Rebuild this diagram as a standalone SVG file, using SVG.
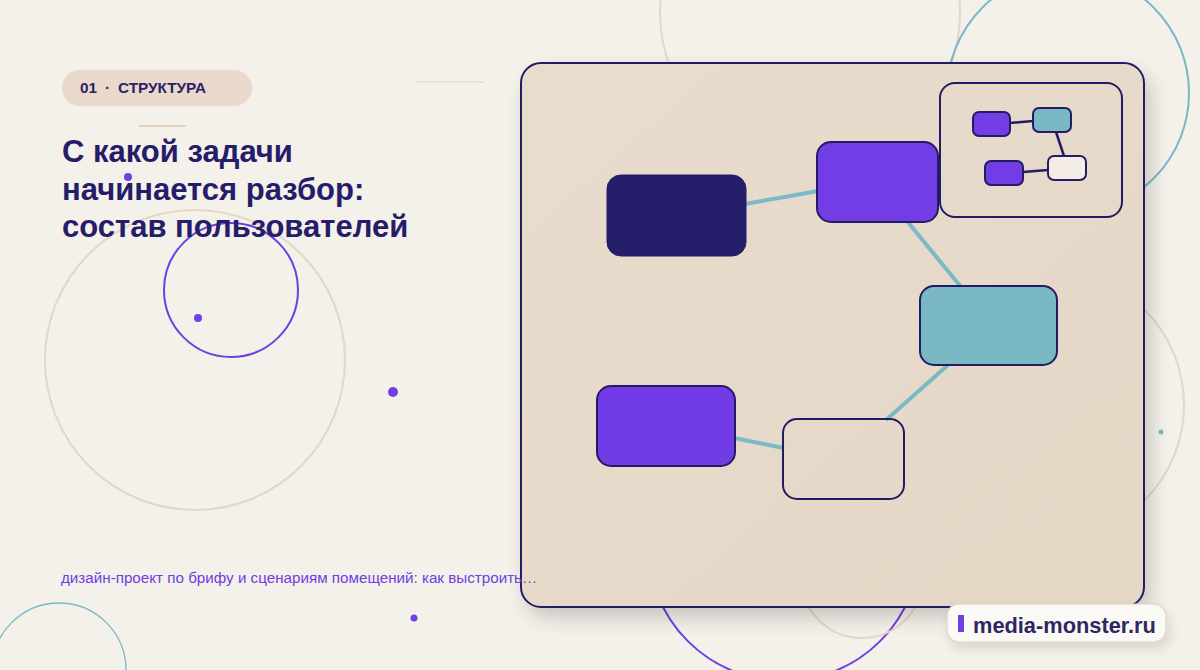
<svg xmlns="http://www.w3.org/2000/svg" width="1200" height="670" viewBox="0 0 1200 670">
<defs>
<style>
.deco{fill:none}
.beige{stroke:#e6d6c5;stroke-width:2}
.teal{stroke:#7ab8c4;stroke-width:2}
.purp{stroke:#6e3fe3;stroke-width:2}
.node{stroke:#231c64;stroke-width:2}
.edge{stroke:#7abac6;stroke-width:4;stroke-linecap:butt;fill:none}
.mini{stroke:#231c64;stroke-width:2}
.medge{stroke:#231c64;stroke-width:2.5;fill:none}
.title{font-family:"Liberation Sans",Arial,sans-serif;font-weight:700;font-size:31px;fill:#251d69}
.tag{font-family:"Liberation Sans",Arial,sans-serif;font-weight:700;font-size:15.3px;fill:#2a2168}
</style>
<linearGradient id="pg" x1="0" y1="0" x2="1" y2="1">
<stop offset="0" stop-color="#e8dccd"/>
<stop offset="1" stop-color="#e5d7c6"/>
</linearGradient>
<filter id="sh" x="-10%" y="-10%" width="125%" height="130%">
<feGaussianBlur in="SourceAlpha" stdDeviation="10"/>
<feOffset dx="6" dy="10" result="b"/>
<feComponentTransfer><feFuncA type="linear" slope="0.18"/></feComponentTransfer>
<feMerge><feMergeNode/><feMergeNode in="SourceGraphic"/></feMerge>
</filter>
<filter id="sh2" x="-20%" y="-40%" width="150%" height="200%">
<feGaussianBlur in="SourceAlpha" stdDeviation="6"/>
<feOffset dx="3" dy="6"/>
<feComponentTransfer><feFuncA type="linear" slope="0.12"/></feComponentTransfer>
<feMerge><feMergeNode/><feMergeNode in="SourceGraphic"/></feMerge>
</filter>
</defs>
<rect width="1200" height="670" fill="#f4f0ea"/>
<g id="decor">
<circle class="deco beige" cx="810" cy="13" r="150"/>
<circle class="deco teal" cx="1068" cy="93" r="121"/>
<circle class="deco beige" cx="1049" cy="405" r="135"/>
<circle class="deco beige" cx="195" cy="360" r="150"/>
<circle class="deco purp" cx="231" cy="290" r="67"/>
<circle class="deco purp" cx="784" cy="545" r="136"/>
<circle class="deco beige" cx="862" cy="577" r="61"/>
<circle class="deco" cx="59" cy="670" r="67" stroke="#7ab8c4" stroke-width="1.3"/>
<circle cx="128" cy="177" r="4" fill="#6e3fe3"/>
<circle cx="198" cy="318" r="4" fill="#6e3fe3"/>
<circle cx="393" cy="392" r="5" fill="#6e3fe3"/>
<circle cx="414" cy="618" r="3.5" fill="#6e3fe3"/>
<circle cx="1161" cy="432" r="2.5" fill="#7ab8c4"/>
<line x1="139" y1="126" x2="186" y2="126" stroke="#e3d2c0" stroke-width="2"/>
<line x1="416" y1="82" x2="484" y2="82" stroke="#e3d2c0" stroke-width="1.2"/>
</g>
<g id="tag">
<rect x="62" y="70" width="190" height="36" rx="18" fill="#e8d9ca"/>
<text class="tag" y="92.5"><tspan x="80">01</tspan><tspan x="105">·</tspan><tspan x="118">СТРУКТУРА</tspan></text>
</g>
<g id="heading">
<text class="title" x="62" y="162">С какой задачи</text>
<text class="title" x="62" y="200">начинается разбор:</text>
<text class="title" x="62" y="237">состав пользователей</text>
</g>
<g id="panel">
<rect x="521" y="63" width="623" height="544" rx="20" fill="url(#pg)" stroke="#231c64" stroke-width="2" filter="url(#sh)"/>
</g>
<g id="connectors">
<line class="edge" x1="745" y1="204" x2="818" y2="191"/>
<line class="edge" x1="907" y1="221" x2="961" y2="287"/>
<line class="edge" x1="948" y1="365" x2="886" y2="420"/>
<line class="edge" x1="734" y1="438" x2="784" y2="448"/>
</g>
<g id="node-dark"><rect x="607" y="175" width="139" height="81" rx="14" fill="#251e6a" stroke="#251e6a" stroke-width="1"/></g>
<g id="node-purple-top"><rect class="node" x="817" y="142" width="121" height="80" rx="14" fill="#733de6"/></g>
<g id="node-teal"><rect class="node" x="920" y="286" width="137" height="79" rx="14" fill="#7ab8c4"/></g>
<g id="node-purple-bottom"><rect class="node" x="597" y="386" width="138" height="80" rx="14" fill="#713ce5"/></g>
<g id="node-empty"><rect class="node" x="783" y="419" width="121" height="80" rx="14" fill="none"/></g>
<g id="minimap">
<rect x="940" y="83" width="182" height="134" rx="15" fill="none" stroke="#231c64" stroke-width="2"/>
<g id="mini-connectors">
<line class="medge" x1="1010" y1="123" x2="1033" y2="121"/>
<line class="medge" x1="1056" y1="132" x2="1064" y2="156"/>
<line class="medge" x1="1023" y1="172" x2="1048" y2="170"/>
</g>
<g id="mini-1"><rect class="mini" x="973" y="112" width="37" height="24" rx="6" fill="#733de6"/></g>
<g id="mini-2"><rect class="mini" x="1033" y="108" width="38" height="24" rx="6" fill="#7ab8c4"/></g>
<g id="mini-3"><rect class="mini" x="985" y="161" width="38" height="24" rx="6" fill="#733de6"/></g>
<g id="mini-4"><rect class="mini" x="1048" y="156" width="38" height="24" rx="6" fill="#f3ede6"/></g>
</g>
<g id="subtitle">
<text x="61" y="583" font-family="Liberation Sans,Arial,sans-serif" font-size="15.2" fill="#6e3fe3">дизайн-проект по брифу и сценариям помещений: как выстроить…</text>
</g>
<g id="badge">
<rect x="947" y="604" width="219" height="38" rx="12" fill="#fbf9f6" stroke="#ddd2c6" stroke-width="1.2" filter="url(#sh2)"/>
<rect x="958" y="615" width="6" height="17" fill="#6e3fe3"/>
<text x="973" y="633" font-family="Liberation Sans,Arial,sans-serif" font-weight="700" font-size="21.8" fill="#2d2762">media-monster.ru</text>
</g>
</svg>
